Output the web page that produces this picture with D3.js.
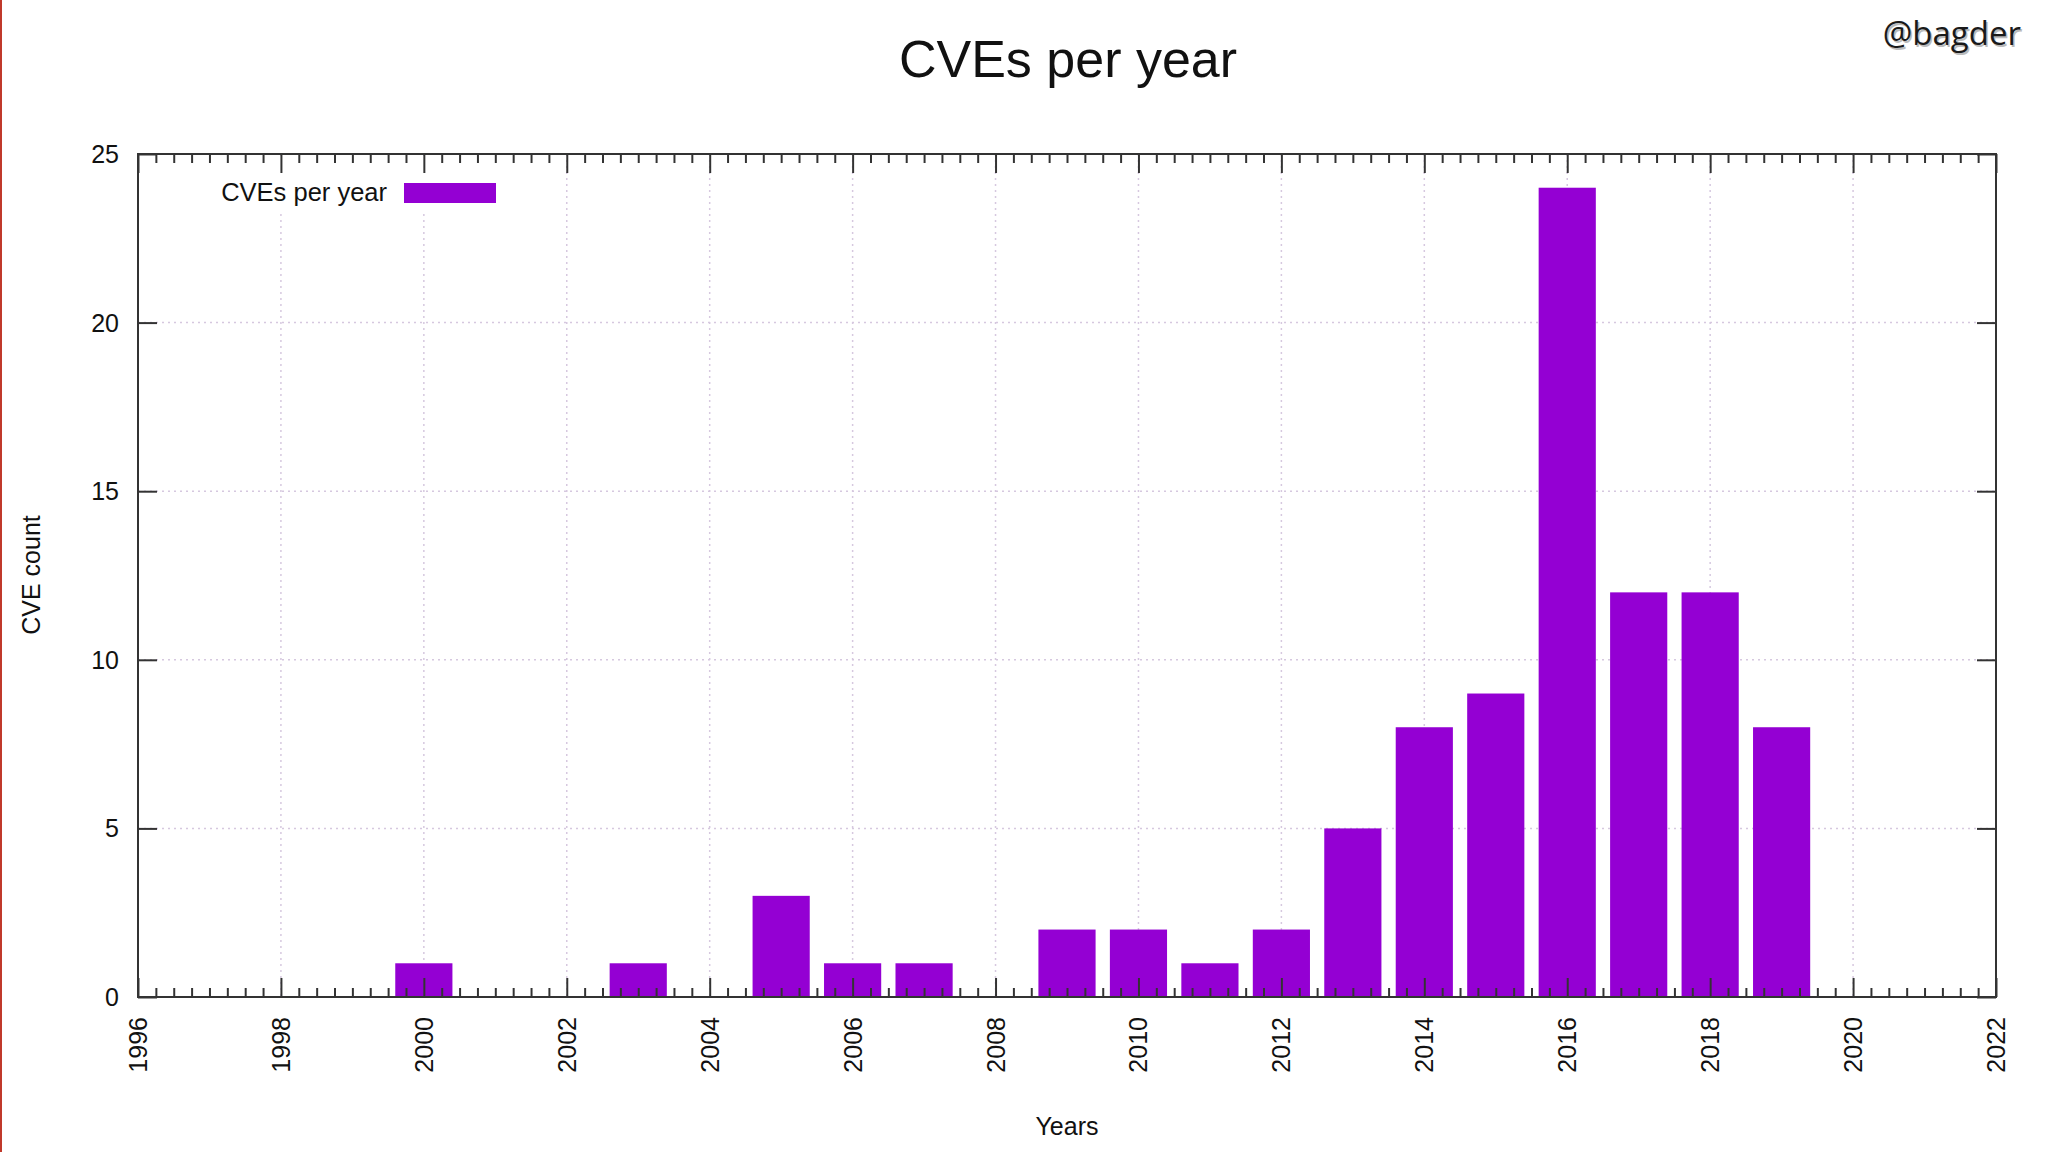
<!DOCTYPE html>
<html>
<head>
<meta charset="utf-8">
<script src="https://cdn.jsdelivr.net/npm/d3@7"></script>
<style>
html,body{margin:0;padding:0;background:#fff;}
svg{display:block;}
</style>
</head>
<body>
<svg id="chart" width="2048" height="1152"></svg>
<script>
// ---- data ----
const years  = [2000, 2003, 2005, 2006, 2007, 2009, 2010, 2011, 2012, 2013, 2014, 2015, 2016, 2017, 2018, 2019];
const counts = [1, 1, 3, 1, 1, 2, 2, 1, 2, 5, 8, 9, 24, 12, 12, 8];
const xTickValues = [1996, 1998, 2000, 2002, 2004, 2006, 2008, 2010, 2012, 2014, 2016, 2018, 2020, 2022];
const yTickValues = [0, 5, 10, 15, 20, 25];
const seriesName = "CVEs per year";
const titleText = "CVEs per year";
const xLabel = "Years";
const yLabel = "CVE count";
const watermark = "@bagder";

// ---- layout ----
const svg = d3.select("#chart");
const L = 138, R = 1996, T = 154, B = 997;
const x = d3.scaleLinear().domain([1996, 2022]).range([L, R]);
const y = d3.scaleLinear().domain([0, 25]).range([B, T]);
const barW = x(1996.8) - x(1996);
const font = "'Liberation Sans', Arial, Helvetica, sans-serif";
const axisColor = "#333";
const barColor = "#9400d3";
const gridColor = "#d6c8df";

// red edge line
svg.append("rect").attr("x", 0).attr("y", 0).attr("width", 2).attr("height", 1152).attr("fill", "#c0392b");

// grid
const grid = svg.append("g");
grid.selectAll("line.gx").data(xTickValues.filter(v => v > 1996 && v < 2022)).join("line")
  .attr("x1", d => x(d)).attr("x2", d => x(d)).attr("y1", T).attr("y2", B)
  .attr("stroke", gridColor).attr("stroke-width", 1.5).attr("stroke-dasharray", "2,4");
grid.selectAll("line.gy").data(yTickValues.filter(v => v > 0 && v < 25)).join("line")
  .attr("x1", L).attr("x2", R).attr("y1", d => y(d)).attr("y2", d => y(d))
  .attr("stroke", gridColor).attr("stroke-width", 1.5).attr("stroke-dasharray", "2,4");

// legend background (opaque)
svg.append("rect").attr("x", L + 2).attr("y", T + 2).attr("width", 380).attr("height", 57).attr("fill", "#fff");

// bars
svg.append("g").selectAll("rect").data(years.map((yr, i) => ({yr, c: counts[i]}))).join("rect")
  .attr("x", d => x(d.yr) - barW / 2)
  .attr("y", d => y(d.c))
  .attr("width", barW)
  .attr("height", d => y(0) - y(d.c))
  .attr("fill", barColor);

// ticks (inward) via d3 axes
const majorLen = 19, minorLen = 9;
const minorTicks = d3.range(1996, 2022.001, 0.25).filter(v => Math.abs(v / 2 - Math.round(v / 2)) > 1e-6);

function styleAxis(g) {
  g.select(".domain").remove();
  g.selectAll(".tick line").attr("stroke", axisColor).attr("stroke-width", 2);
  g.selectAll(".tick text").remove();
}
// bottom
svg.append("g").attr("transform", `translate(0,${B})`)
  .call(d3.axisTop(x).tickValues(xTickValues).tickSize(majorLen)).call(styleAxis);
svg.append("g").attr("transform", `translate(0,${B})`)
  .call(d3.axisTop(x).tickValues(minorTicks).tickSize(minorLen)).call(styleAxis);
// top
svg.append("g").attr("transform", `translate(0,${T})`)
  .call(d3.axisBottom(x).tickValues(xTickValues).tickSize(majorLen)).call(styleAxis);
svg.append("g").attr("transform", `translate(0,${T})`)
  .call(d3.axisBottom(x).tickValues(minorTicks).tickSize(minorLen)).call(styleAxis);
// left / right
svg.append("g").attr("transform", `translate(${L},0)`)
  .call(d3.axisRight(y).tickValues(yTickValues).tickSize(majorLen)).call(styleAxis);
svg.append("g").attr("transform", `translate(${R},0)`)
  .call(d3.axisLeft(y).tickValues(yTickValues).tickSize(majorLen)).call(styleAxis);

// frame
svg.append("rect").attr("x", L).attr("y", T).attr("width", R - L).attr("height", B - T)
  .attr("fill", "none").attr("stroke", axisColor).attr("stroke-width", 2);

// y tick labels
svg.append("g").selectAll("text").data(yTickValues).join("text")
  .attr("x", L - 19).attr("y", d => y(d)).attr("dy", "0.36em")
  .attr("text-anchor", "end").attr("font-family", font).attr("font-size", 25).attr("fill", "#111")
  .text(d => d);

// x tick labels (rotated)
svg.append("g").selectAll("text").data(xTickValues).join("text")
  .attr("transform", d => `translate(${x(d)},${B + 20}) rotate(-90)`)
  .attr("dy", "0.36em")
  .attr("text-anchor", "end").attr("font-family", font).attr("font-size", 25).attr("fill", "#111")
  .text(d => d);

// legend
svg.append("text").attr("x", 387).attr("y", 201).attr("text-anchor", "end")
  .attr("font-family", font).attr("font-size", 25.5).attr("fill", "#111").text(seriesName);
svg.append("rect").attr("x", 404).attr("y", 183).attr("width", 92).attr("height", 20).attr("fill", barColor);

// title
svg.append("text").attr("x", 1068).attr("y", 77).attr("text-anchor", "middle")
  .attr("font-family", font).attr("font-size", 52).attr("fill", "#111").text(titleText);

// axis labels
svg.append("text").attr("x", 1067).attr("y", 1135).attr("text-anchor", "middle")
  .attr("font-family", font).attr("font-size", 25).attr("fill", "#111").text(xLabel);
svg.append("text").attr("transform", "translate(40,575) rotate(-90)").attr("text-anchor", "middle")
  .attr("font-family", font).attr("font-size", 25).attr("fill", "#111").text(yLabel);

// watermark
svg.append("text").attr("x", 2021).attr("y", 45).attr("text-anchor", "end")
  .attr("font-family", "'Open Sans', sans-serif").attr("font-size", 33).attr("fill", "#bbb")
  .attr("dx", 1.5).attr("dy", 1.5).text(watermark);
svg.append("text").attr("x", 2021).attr("y", 45).attr("text-anchor", "end")
  .attr("font-family", "'Open Sans', sans-serif").attr("font-size", 33).attr("fill", "#1a1a1a").text(watermark);
</script>
</body>
</html>
